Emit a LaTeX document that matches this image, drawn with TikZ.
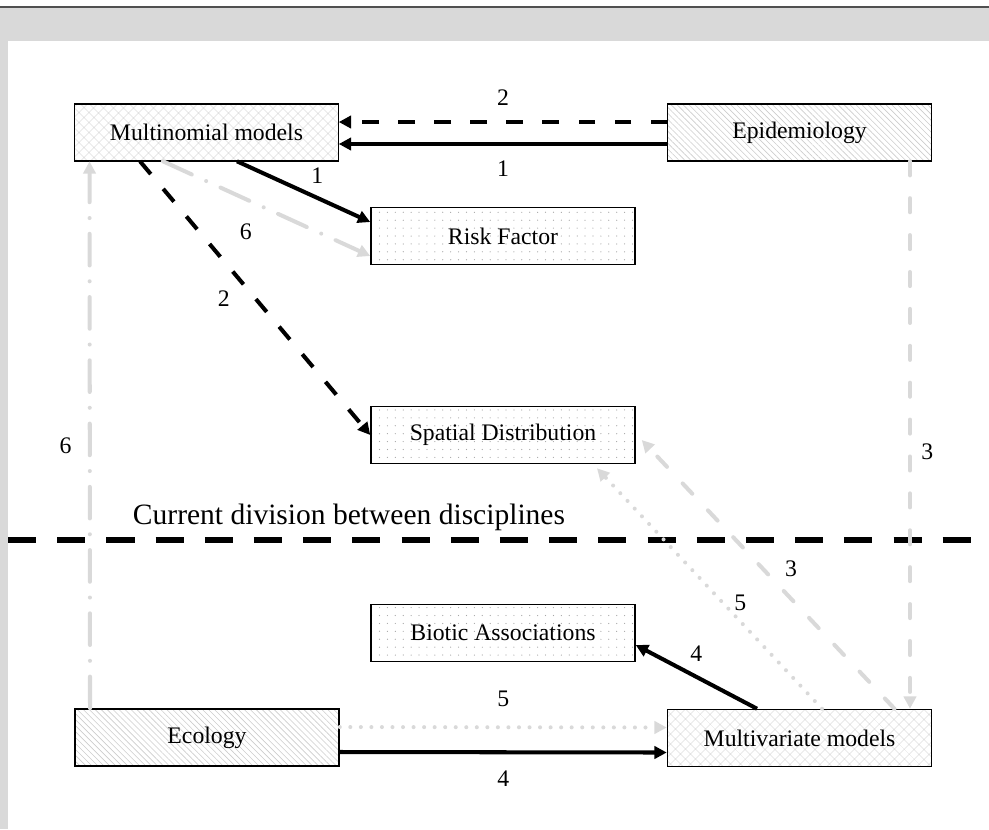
\documentclass[tikz,border=0pt]{standalone}
\usepackage{fontspec}
\setmainfont{Liberation Serif}
\usetikzlibrary{arrows.meta, patterns.meta}
\definecolor{bandgray}{RGB}{217, 217, 217}
\definecolor{linkgray}{RGB}{217, 217, 217}
\definecolor{edgegray}{RGB}{80, 80, 80}

\begin{document}
\begin{tikzpicture}[
    x=0.02cm, y=-0.02cm,
    font=\fontsize{13.5}{16}\selectfont,
    box/.style={draw=black, line width=0.9pt, minimum width=5.28cm, minimum height=1.14cm, inner sep=0pt},
    hatchbox/.style={box, pattern={Hatch[angle=45, distance=4pt, line width=0.35pt]}, pattern color=gray!35},
    linebox/.style={box, pattern={Lines[angle=-45, distance=2.4pt, line width=0.35pt]}, pattern color=gray!40},
    dotbox/.style={box, pattern={Dots[distance=4.5pt, radius=0.35pt]}, pattern color=gray!70},
    lbl/.style={text=black},
    tip/.style={-{Triangle[length=7pt, width=7pt]}},
    blackarr/.style={tip, black, line width=2.3pt},
    blackdashed/.style={blackarr, dash pattern=on 9.5pt off 11pt},
    greyarr/.style={tip, linkgray, line width=2.3pt, line cap=round},
    greydashed/.style={greyarr, dash pattern=on 8pt off 13pt},
    greydotted/.style={greyarr, dash pattern=on 0pt off 6pt},
    greydashdot/.style={greyarr, dash pattern=on 18pt off 9pt on 0pt off 9pt},
    divline/.style={black, line width=3.4pt, dash pattern=on 16pt off 12pt}
]
    \useasboundingbox (0,0) rectangle (989,829);

    % --- Frame ---
    \fill[bandgray] (0,8) rectangle (989,41);
    \fill[bandgray] (0,8) rectangle (8,829);
    \draw[edgegray, line width=0.9pt] (0,7) -- (989,7);

    % --- Boxes ---
    % Top row
    \node[hatchbox] (mnl) at (206.5,132.5) {Multinomial models};
    \node[linebox]  (epi) at (799.5,132.5) {Epidemiology};

    % Middle column
    \node[dotbox] (risk)    at (503,236) {Risk Factor};
    \node[dotbox] (spatial) at (503,435) {Spatial Distribution};
    \node[dotbox] (biotic)  at (503,633) {Biotic Associations};

    % Bottom row
    \node[linebox]  (eco) at (207,737.5) {Ecology};
    \node[hatchbox] (mvm) at (799.5,738) {Multivariate models};

    % --- Division between disciplines ---
    \draw[divline] (8,540) -- (989,540);
    \node[font=\fontsize{16.8}{20}\selectfont] (divtext) at (349,517) {Current division between disciplines};

    % --- Epidemiology links ---
    \draw[blackdashed] ([yshift=0.21cm]epi.west) -- ([yshift=0.21cm]mnl.east) node[lbl, midway, above=5pt] {2};
    \draw[blackarr] ([yshift=-0.23cm]epi.west) -- ([yshift=-0.23cm]mnl.east) node[lbl, midway, below=5pt] {1};
    \draw[greydashed] ([xshift=2.21cm]epi.south) -- ([xshift=2.21cm]mvm.north) node[lbl, pos=0.53, right=2pt] {3};

    % --- Multinomial models links ---
    \draw[blackarr] ([xshift=0.61cm]mnl.south) -- ([yshift=0.28cm]risk.west) node[lbl, midway, above right=0pt] {1};
    \draw[greydashdot] ([xshift=-0.87cm]mnl.south) -- ([yshift=-0.4cm]risk.west) node[lbl, midway, below left=4pt] {6};
    \draw[blackdashed] ([xshift=-1.33cm]mnl.south) -- (spatial.west) node[lbl, midway, left=10pt] {2};

    % --- Ecology links ---
    \draw[greydashdot] ([xshift=-2.34cm]eco.north) -- ([xshift=-2.34cm]mnl.south) node[lbl, pos=0.48, left=6pt] {6};
    \draw[greydotted] ([yshift=0.21cm]eco.east) -- ([yshift=0.21cm]mvm.west) node[lbl, midway, above=7pt] {5};
    \draw[blackarr] ([yshift=-0.29cm]eco.east) -- ([yshift=-0.29cm]mvm.west) node[lbl, midway, below=6pt] {4};

    % --- Multivariate models links ---
    \draw[greydashed] ([xshift=1.9cm]mvm.north) -- ([xshift=0.12cm, yshift=-0.1cm]spatial.east) node[lbl, pos=0.52, right=8pt] {3};
    \draw[greydotted] ([xshift=0.45cm]mvm.north) -- ([xshift=1.88cm, yshift=-0.08cm]spatial.south) node[lbl, pos=0.44, right=2pt] {5};
    \draw[blackarr] ([xshift=-0.85cm]mvm.north) -- ([yshift=-0.24cm]biotic.east) node[lbl, midway, above=4pt] {4};

\end{tikzpicture}
\end{document}
